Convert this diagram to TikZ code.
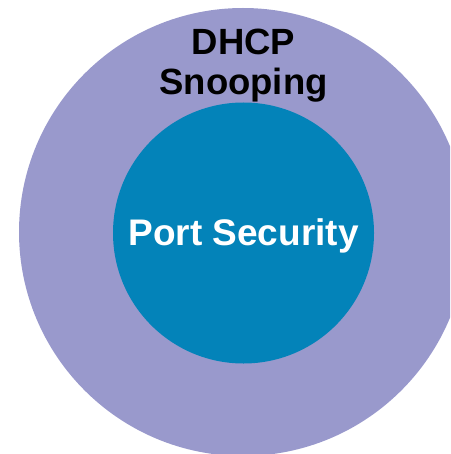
\documentclass[tikz,border=0pt]{standalone}
\usepackage{fontspec}
\setmainfont{Liberation Sans}
\usetikzlibrary{positioning}
\definecolor{snooplav}{HTML}{9999CC}
\definecolor{portblue}{HTML}{0383B9}

\begin{document}
\begin{tikzpicture}[
      x = 1pt, y = -1pt,
 disc/.style = {circle, inner sep=0pt, outer sep=0pt},
 txt/.style  = {inner sep=0pt, align=center, font=\bfseries\fontsize{36.5}{40}\selectfont}
                    ]
\useasboundingbox (0,0) rectangle (450,454);
\clip (0,0) rectangle (450,454);
\node (dhcp) [disc, fill=snooplav, minimum size=448pt] at (243,232) {};
\node (port) [disc, fill=portblue, minimum size=261pt] at (243.5,233) {};
\node (porttxt) [txt, anchor=base, text=white, font=\bfseries\fontsize{37}{40}\selectfont] at (243.5,245) {Port Security};
\node (dhcptxt) [txt, above=0pt of port] {DHCP\\Snooping};
\end{tikzpicture}
\end{document}
